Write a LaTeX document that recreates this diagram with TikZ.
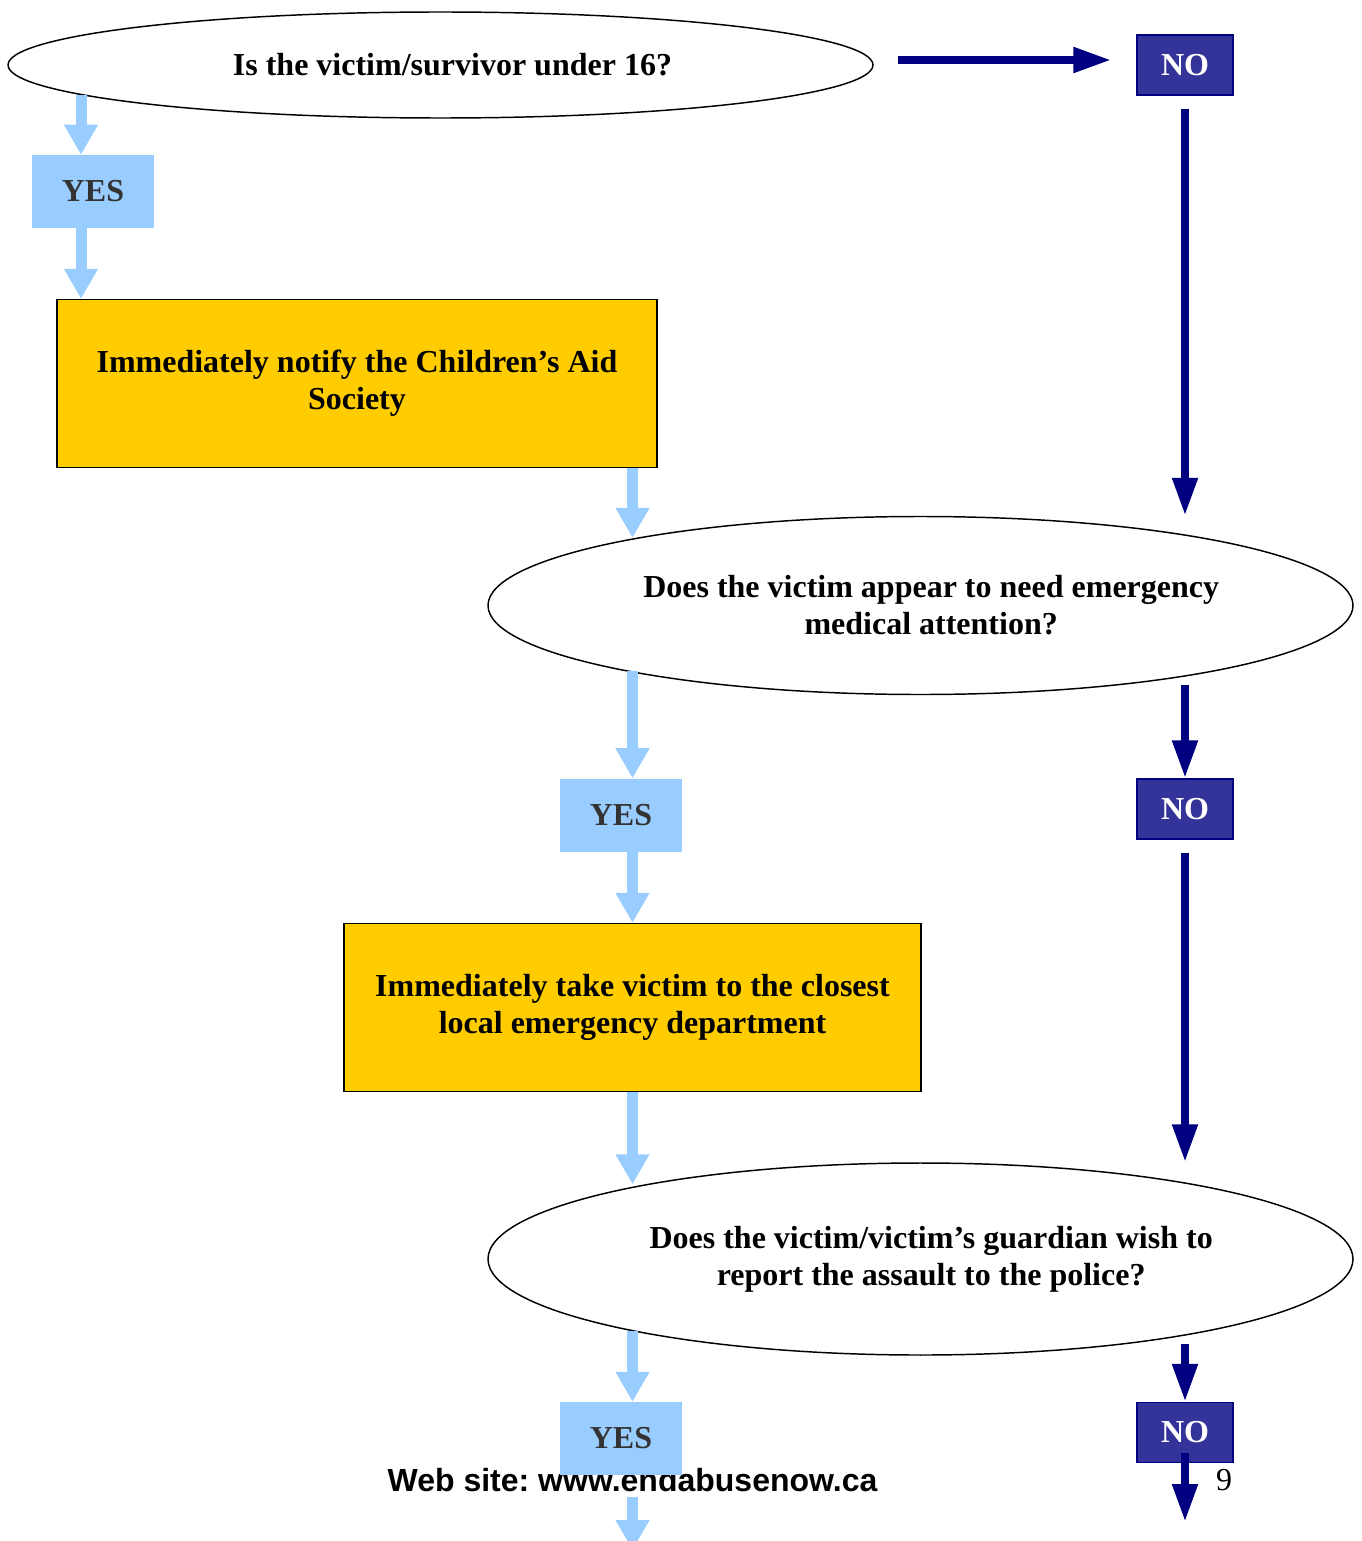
\documentclass[tikz,border=0pt]{standalone}
\usepackage{fontspec}
\setmainfont{Liberation Serif}
\newfontfamily\footerfont{Liberation Sans}
\usetikzlibrary{shapes.geometric,arrows.meta}

\definecolor{paleblue}{HTML}{99CCFF}
\definecolor{gold}{HTML}{FFCC00}
\definecolor{navy}{HTML}{000080}
\definecolor{noblue}{HTML}{333399}
\definecolor{yesgrey}{HTML}{333333}

\tikzset{
		question/.style = {shape=ellipse, draw, line width=1.1pt, inner sep=0pt,
				align=center, minimum width=648.75pt},
		action/.style   = {shape=rectangle, draw, line width=1pt, fill=gold,
				align=center, minimum width=450pt, minimum height=126pt},
		yesbox/.style   = {shape=rectangle, fill=paleblue, text=yesgrey,
				minimum width=91.5pt, minimum height=54.75pt},
		nobox/.style    = {shape=rectangle, draw=navy, line width=1pt, fill=noblue,
				text=white, minimum width=72pt, minimum height=45pt},
		yesarrow/.style = {draw=paleblue, line width=8.25pt,
				-{Triangle[length=22.5pt,width=24pt,fill=paleblue]}},
		noarrow/.style  = {draw=navy, line width=6pt,
				-{Triangle[length=28.5pt,width=18pt,fill=navy]}}
	}

\begin{document}
\begin{tikzpicture}
		[x=0.75pt, y=-0.75pt,
			every node/.style = {font=\fontsize{24}{27.75}\selectfont\bfseries}
		]
		\useasboundingbox (0,0) rectangle (1362,1541);

		\node [question] (q1) at (440.5,65) [minimum height=79.5pt] {\hspace*{18pt}Is the victim/survivor under 16?};
		\node [nobox] (no1) at (1185,65) {NO};
		\node [yesbox] (yes1) at (93,191.5) {YES};
		\node [action] (a1) at (357,383.5) {Immediately notify the Children’s Aid\\ Society};

		\node [question] (q2) at (920.5,605.5) [minimum height=133.5pt] {\hspace*{16pt}Does the victim appear to need emergency\\ \hspace*{16pt}medical attention?};
		\node [yesbox] (yes2) at (621,815) {YES};
		\node [nobox] (no2) at (1185,809) {NO};
		\node [action] (a2) at (632.5,1007.5) [minimum width=432.75pt] {Immediately take victim to the closest\\ local emergency department};

		\node [question] (q3) at (920.5,1259) [minimum height=144pt] {\hspace*{16pt}Does the victim/victim’s guardian wish to\\ \hspace*{16pt}report the assault to the police?};

		% footer of the page
		\node [font=\footerfont\fontsize{24}{27}\selectfont\bfseries] (web) at (632.5,1480) {Web site:\ www.endabusenow.ca};
		\node [font=\fontsize{24}{27}\selectfont] (page) at (1224,1480) {9};

		\node [yesbox] (yes3) at (621,1438.5) {YES};
		\node [nobox] (no3) at (1185,1432.5) {NO};
		\coordinate (yesend) at (632.5,1550);
		\coordinate (noend) at (1185,1522);

		\draw [noarrow, shorten <=18pt, shorten >=18.75pt] ([yshift=3.75pt]q1.east) -- ([yshift=3.75pt]no1.west);
		\draw [noarrow, shorten <=9.75pt] (no1.south) -- (no1.south |- q2.north);
		\draw [noarrow] ([yshift=7.5pt]q2.south -| no2.north) -- (no2.north);
		\draw [noarrow, shorten <=9.75pt] (no2.south) -- (no2.south |- q3.north);
		\draw [noarrow] ([yshift=9pt]q3.south -| no3.north) -- (no3.north);
		\draw [noarrow] ([yshift=7.5pt]no3.south) -- (noend);

		\draw [yesarrow, shorten <=-17.6pt] ([xshift=-9pt]yes1.north |- q1.south) -- ([xshift=-9pt]yes1.north);
		\draw [yesarrow] ([xshift=-9pt]yes1.south) -- ([xshift=-9pt]yes1.south |- a1.north);
		\draw [yesarrow] (a1.south -| a2.north) -- ([yshift=-16.5pt]a2.north |- q2.north);
		\draw [yesarrow, shorten <=-18pt] (a2.north |- q2.south) -- (a2.north |- yes2.north);
		\draw [yesarrow] (yes2.south -| a2.north) -- (a2.north);
		\draw [yesarrow] (a2.south) -- ([yshift=-16.5pt]a2.south |- q3.north);
		\draw [yesarrow, shorten <=-18.75pt] (a2.south |- q3.south) -- (a2.south |- yes3.north);
		\draw [yesarrow, shorten <=16.5pt] (yes3.south -| yesend) -- (yesend);
	\end{tikzpicture}
\end{document}
